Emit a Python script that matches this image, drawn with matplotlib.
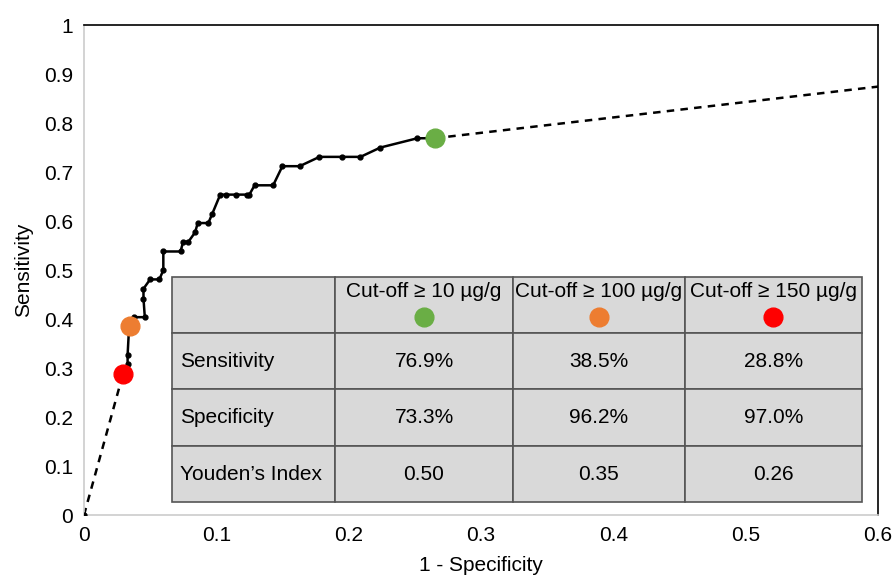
import numpy as np
import matplotlib.pyplot as plt

plt.rcParams['font.family'] = ['Liberation Sans', 'DejaVu Sans']

# ROC step points (1 - specificity, sensitivity)
fpr = [0.0295, 0.033, 0.033, 0.034, 0.035, 0.038, 0.046, 0.045, 0.045, 0.050,
       0.057, 0.060, 0.060, 0.073, 0.075, 0.079, 0.084, 0.086, 0.094, 0.097,
       0.103, 0.107, 0.115, 0.123, 0.125, 0.129, 0.143, 0.150, 0.163, 0.178,
       0.195, 0.209, 0.224, 0.252, 0.265]
tpr = [0.288, 0.308, 0.327, 0.378, 0.385, 0.404, 0.404, 0.442, 0.462, 0.481,
       0.481, 0.500, 0.538, 0.538, 0.558, 0.558, 0.577, 0.596, 0.596, 0.615,
       0.654, 0.654, 0.654, 0.654, 0.654, 0.673, 0.673, 0.712, 0.712, 0.731,
       0.731, 0.731, 0.750, 0.769, 0.769]

# cut-off points
cut_labels = ['Cut-off \u2265 10 \u00b5g/g', 'Cut-off \u2265 100 \u00b5g/g', 'Cut-off \u2265 150 \u00b5g/g']
cut_fpr = [0.265, 0.035, 0.0295]
cut_tpr = [0.769, 0.385, 0.288]
cut_colors = ['#6aae45', '#ed7d31', '#ff0000']

row_labels = ['Sensitivity', 'Specificity', 'Youden\u2019s Index']
sens = ['76.9%', '38.5%', '28.8%']
spec = ['73.3%', '96.2%', '97.0%']
youden = ['0.50', '0.35', '0.26']

fs = 15

fig = plt.figure(figsize=(8.93, 5.75), dpi=100)
ax = fig.add_axes([0.094, 0.104, 0.889, 0.8525])

# dashed extrapolations
ax.plot([0, fpr[0]], [0, tpr[0]], ls=(0, (3, 2.5)), color='black', lw=1.8, zorder=2)
ax.plot([fpr[-1], 1], [tpr[-1], 1], ls=(0, (3, 2.5)), color='black', lw=1.8, zorder=2)
ax.plot([0], [0], 'o', color='black', ms=3.5, zorder=3)

# solid curve with step points
ax.plot(fpr, tpr, '-o', color='black', lw=1.8, ms=3.5, zorder=3)

for x, y, c in zip(cut_fpr, cut_tpr, cut_colors):
    ax.plot(x, y, 'o', color=c, ms=13.5, zorder=4)

ax.set_xlim(0, 0.6)
ax.set_ylim(0, 1)
ax.set_xticks(np.arange(0, 0.61, 0.1))
ax.set_xticklabels(['0', '0.1', '0.2', '0.3', '0.4', '0.5', '0.6'])
ax.set_yticks(np.arange(0, 1.01, 0.1))
ax.set_yticklabels(['0', '0.1', '0.2', '0.3', '0.4', '0.5', '0.6', '0.7', '0.8', '0.9', '1'])
ax.tick_params(length=0, labelsize=fs, pad=8)
ax.set_xlabel('1 - Specificity', fontsize=fs, labelpad=8)
ax.set_ylabel('Sensitivity', fontsize=fs, labelpad=8)
ax.spines['left'].set_color('#cccccc')
ax.spines['bottom'].set_color('#cccccc')
ax.spines['top'].set_color('black')
ax.spines['right'].set_color('black')
for s in ax.spines.values():
    s.set_linewidth(1.2)

# table
cells = [[''] + ['', '', '']]
cells.append([row_labels[0]] + sens)
cells.append([row_labels[1]] + spec)
cells.append([row_labels[2]] + youden)
widths = np.array([163, 178, 172, 177]) / 690.0
tb = ax.table(cellText=cells, colWidths=list(widths * 0.869),
              bbox=[0.111, 0.0265, 0.869, 0.46], zorder=5, cellLoc='center')
tb.auto_set_font_size(False)
for (r, c), cell in tb.get_celld().items():
    cell.set_facecolor('#d9d9d9')
    cell.set_edgecolor('#555555')
    cell.set_linewidth(1.2)
    cell.get_text().set_fontsize(fs)
    if c == 0:
        cell.get_text().set_ha('left')
        cell.PAD = 0.05

col_x = [0.257, 0.389, 0.521]
for lab, x, c in zip(cut_labels, col_x, cut_colors):
    ax.text(x, 0.457, lab, ha='center', va='center', fontsize=fs, zorder=6)
    ax.plot(x, 0.404, 'o', color=c, ms=13.5, zorder=6)

fig.savefig('out.png', dpi=100)
